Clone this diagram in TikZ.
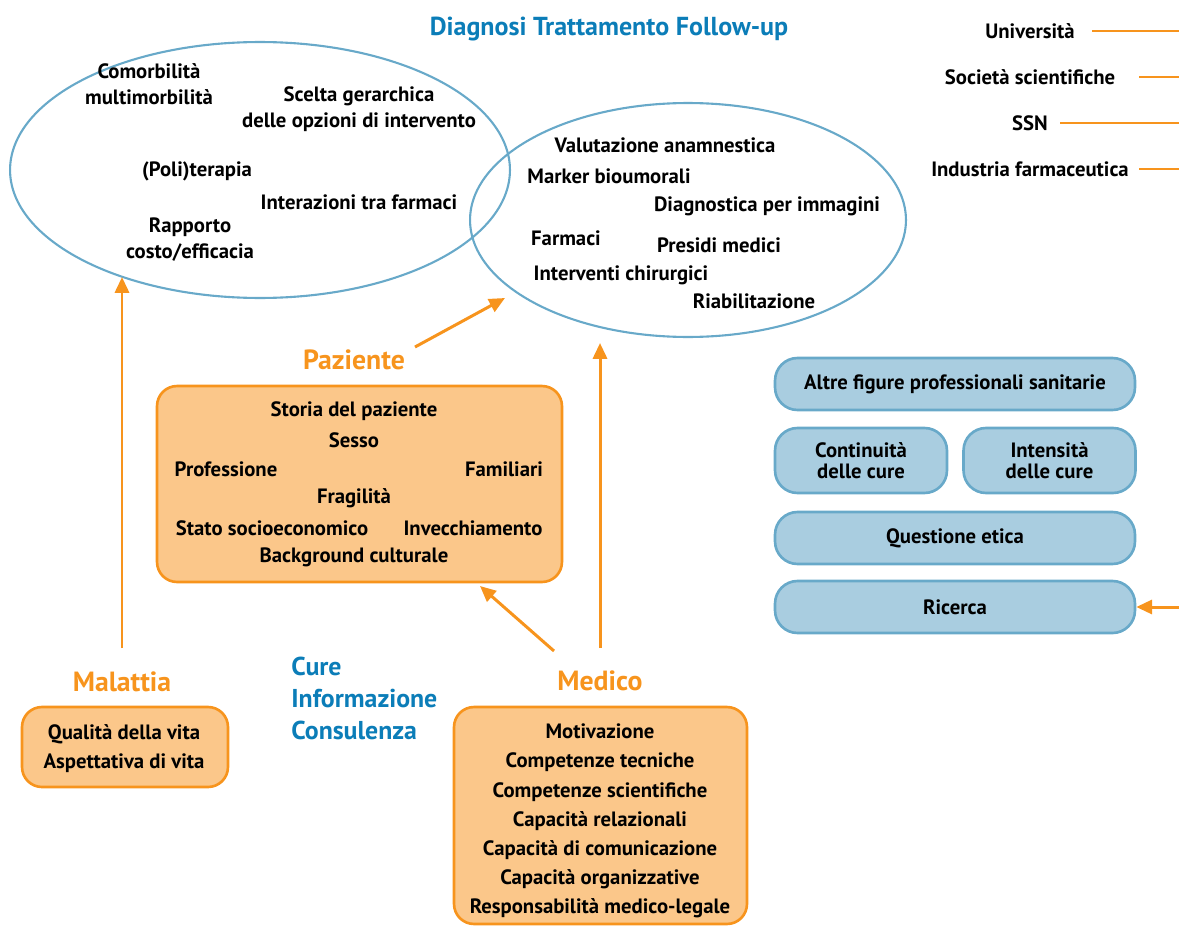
\documentclass[tikz,border=0pt]{standalone}
\usepackage{fontspec}
\setmainfont{PT Sans}
\usetikzlibrary{arrows.meta, positioning, shapes.geometric}
\definecolor{medorange}{HTML}{F7941D}
\definecolor{medpeach}{HTML}{FBC78A}
\definecolor{medblue}{HTML}{0B7DB8}
\definecolor{medsky}{HTML}{A9CDE0}
\definecolor{medline}{HTML}{68A9C9}

\begin{document}
\begin{tikzpicture}[
  x=0.02cm, y=-0.02cm,
  txt/.style={font=\bfseries\fontsize{11.8}{14.7}\selectfont, align=center,
    inner sep=0pt},
  head/.style={font=\bfseries\fontsize{15.8}{18}\selectfont, text=medorange,
    inner sep=0pt},
  cloud/.style={ellipse, draw=medline, line width=1.2pt, inner sep=0pt},
  peach/.style={draw=medorange, fill=medpeach, line width=1.5pt,
    rounded corners=0.4cm, inner sep=0pt},
  sky/.style={draw=medline, fill=medsky, line width=1.5pt,
    rounded corners=0.45cm, inner sep=0pt, align=center,
    font=\bfseries\fontsize{11.8}{12.3}\selectfont},
  arr/.style={draw=medorange, line width=1.7pt,
    -{Triangle[length=9pt, width=8pt]}},
  link/.style={draw=medorange, line width=1.7pt}
]
  \useasboundingbox (0,0) rectangle (1179,926);

  % Ellipses
  \node[cloud, minimum width=10cm, minimum height=5.12cm] (lft) at (260,170) {};
  \node[cloud, minimum width=8.72cm, minimum height=4.68cm] (rgt) at (688,220) {};
  \node[font=\bfseries\fontsize{14.8}{16}\selectfont, text=medblue,
    inner sep=0pt] (title) at (609,29) {Diagnosi Trattamento Follow-up};

  \node[txt] (comorb) at (149,84) {Comorbilità\\multimorbilità};
  \node[txt] (scelta) at (359,109) {Scelta gerarchica\\delle opzioni di intervento};
  \node[txt] (polit) at (197,171) {(Poli)terapia};
  \node[txt] (inter) at (359,202) {Interazioni tra farmaci};
  \node[txt] (rapp) at (190,240) {Rapporto\\costo/efficacia};

  \node[txt] (valut) at (665,145) {Valutazione anamnestica};
  \node[txt] (marker) at (609,176) {Marker bioumorali};
  \node[txt] (diagn) at (767,206) {Diagnostica per immagini};
  \node[txt] (farm) at (566,238) {Farmaci};
  \node[txt] (presidi) at (719,245) {Presidi medici};
  \node[txt] (chir) at (621,275) {Interventi chirurgici};
  \node[txt] (riab) at (754,301) {Riabilitazione};

  % Stakeholders on the right
  \foreach \name/\lbl/\yy/\xs in {univ/Università/31/1092,
      soc/Società scientifiche/77/1139, ssn/SSN/123/1060,
      ind/Industria farmaceutica/169/1139} {
    \node[txt] (\name) at (1030,\yy) {\lbl};
    \coordinate (\name-e) at (1179,\yy);
    \draw[link] (\xs,\yy) -- (\name-e);
  }

  % Blue boxes
  \node[sky, minimum width=7.2cm, minimum height=1.04cm] (altre) at (955,384)
    {Altre figure professionali sanitarie};
  \node[sky, minimum width=3.44cm, minimum height=1.3cm] (contin) at (861,460.5)
    {Continuità\\delle cure};
  \node[sky, minimum width=3.44cm, minimum height=1.3cm] (intens) at (1049.5,460.5)
    {Intensità\\delle cure};
  \node[sky, minimum width=7.2cm, minimum height=1.04cm] (etica) at (955,538)
    {Questione etica};
  \node[sky, minimum width=7.2cm, minimum height=1.04cm] (ricerca) at (955,607)
    {Ricerca};
  \coordinate (ric-in) at (1179,607);
  \draw[arr] (ric-in) -- (ricerca.east);

  % Paziente
  \node[head] (paz) at (354,360) {Paziente};
  \node[peach, minimum width=8.1cm, minimum height=3.92cm] (pazbox) at (359.5,484) {};
  \node[txt] (storia) at (354,411) {Storia del paziente};
  \node[txt] (sesso) at (354,440) {Sesso};
  \node[txt] (prof) at (226,469) {Professione};
  \node[txt] (famil) at (504,469) {Familiari};
  \node[txt] (fragil) at (354,498) {Fragilità};
  \node[txt] (stato) at (272,528) {Stato socioeconomico};
  \node[txt] (invecc) at (473,528) {Invecchiamento};
  \node[txt] (backg) at (354,557) {Background culturale};

  % Malattia
  \node[head] (mal) at (122,682) {Malattia};
  \node[peach, minimum width=4.12cm, minimum height=1.6cm] (malbox) at (125,747) {};
  \node[txt, font=\bfseries\fontsize{11.8}{16.6}\selectfont] (maltxt) at (124,749)
    {Qualità della vita\\Aspettativa di vita};

  % Cure / Informazione / Consulenza
  \node[font=\bfseries\fontsize{14.7}{18.2}\selectfont, text=medblue, align=left,
    inner sep=0pt, anchor=north west] (cure) at (291,657)
    {Cure\\Informazione\\Consulenza};

  % Medico
  \node[head] (med) at (600,681) {Medico};
  \node[peach, minimum width=5.86cm, minimum height=4.34cm] (medbox) at (600.5,815.5) {};
  \node[txt, font=\bfseries\fontsize{11.8}{16.6}\selectfont] (medtxt) at (600,821)
    {Motivazione\\Competenze tecniche\\Competenze scientifiche\\Capacità relazionali\\
     Capacità di comunicazione\\Capacità organizzative\\Responsabilità medico-legale};

  % Arrows
  \coordinate (mal-s) at (122,648);
  \coordinate (mal-t) at (122,277);
  \draw[arr] (mal-s) -- (mal-t);
  \coordinate (paz-s) at (415,347);
  \coordinate (paz-t) at (505,298);
  \draw[arr] (paz-s) -- (paz-t);
  \coordinate (med-s) at (600,648);
  \coordinate (med-t) at (600,343);
  \draw[arr] (med-s) -- (med-t);
  \coordinate (medp-s) at (554,651);
  \coordinate (medp-t) at (480,586);
  \draw[arr] (medp-s) -- (medp-t);
\end{tikzpicture}
\end{document}
